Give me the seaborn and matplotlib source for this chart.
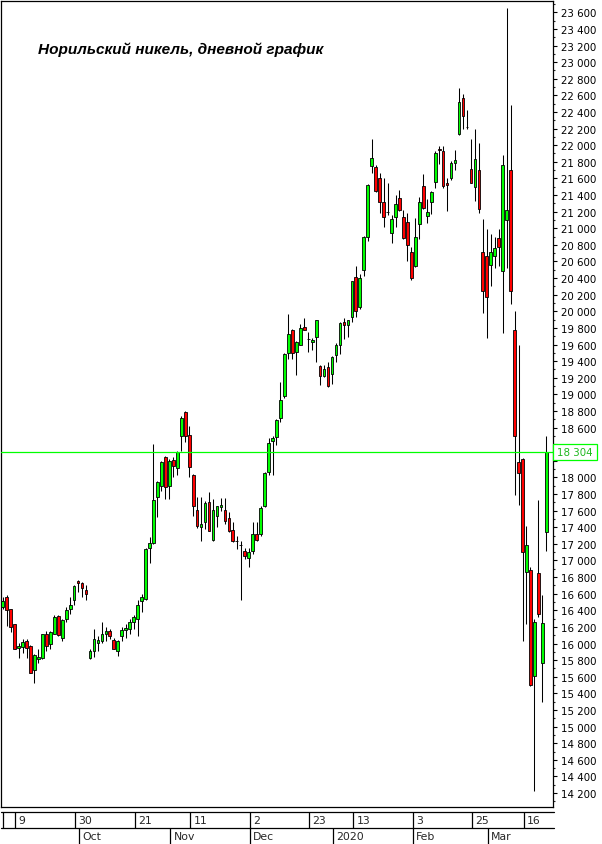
import matplotlib
matplotlib.use('Agg')
import matplotlib.pyplot as plt
import matplotlib.transforms as mtransforms
from matplotlib.patches import Rectangle
from matplotlib.ticker import MultipleLocator, FuncFormatter
import seaborn as sns

# дневные свечи, руб.
opens = [16440, 16560, 16410, 16230, 15950, 15960, 16030, 15970, 15680, 15810,
         15820, 16110, 15990, 16120, 16330, 16070, 16300, 16410, 16530, 16750,
         16730, 16650, 15830, 15910, 16010, 16030, 16110, 16150, 16040, 15910,
         16090, 16160, 16170, 16260, 16290, 16510, 16540, 17150, 17210, 17760,
         17900, 18240, 17900, 18210, 18110, 18500, 18790, 18510, 18030, 17610,
         17400, 17460, 17700, 17250, 17540, 17640, 17610, 17510, 17370, 17230,
         17190, 17110, 17030, 17120, 17320, 17320, 17650, 18070, 18440, 18490,
         18720, 18980, 19500, 19770, 19510, 19600, 19810, 19670, 19630, 19690,
         19340, 19220, 19330, 19240, 19470, 19590, 19870, 19830, 19930, 20410,
         20050, 20500, 20890, 21750, 21740, 21600, 21310, 21200, 20940, 21130,
         21360, 21130, 21080, 20720, 20540, 21050, 21510, 21150, 21310, 21560,
         21960, 21930, 21550, 21600, 21790, 22130, 22570, 22220, 21710, 21500,
         21700, 20710, 20660, 20560, 20660, 20880, 20480, 21100, 21700, 19770,
         18190, 18220, 16860, 16890, 15610, 16850, 15760, 17340]
highs = [16560, 16580, 16420, 16240, 16010, 16050, 16050, 15980, 15870, 15930,
         16120, 16150, 16150, 16340, 16340, 16290, 16440, 16560, 16700, 16760,
         16740, 16710, 15930, 16170, 16090, 16260, 16200, 16180, 16070, 16040,
         16200, 16240, 16300, 16340, 16520, 16600, 17150, 17280, 18400, 17960,
         18200, 18260, 18220, 18240, 18320, 18740, 18800, 18620, 18040, 17760,
         17760, 17720, 17830, 17740, 17660, 17750, 17750, 17580, 17460, 17300,
         17240, 17150, 17150, 17460, 17460, 17650, 18060, 18470, 18500, 18700,
         19150, 19500, 19970, 19790, 19640, 19850, 19920, 19750, 19680, 19900,
         19350, 19350, 19390, 19460, 19620, 19870, 19920, 19900, 20370, 20540,
         20450, 20910, 21530, 22080, 21760, 21670, 21610, 21540, 21160, 21400,
         21460, 21220, 21180, 20770, 21120, 21380, 21650, 21350, 21450, 21930,
         21990, 21990, 21610, 21810, 21940, 22690, 22620, 22420, 22070, 22190,
         22030, 21110, 20990, 20930, 20900, 20990, 21880, 23650, 22480, 20000,
         19590, 18230, 17420, 16920, 16300, 17730, 16590, 18500]
lows = [16420, 16210, 16140, 15930, 15830, 15890, 15830, 15640, 15520, 15770,
        15810, 15910, 15930, 16110, 16090, 16030, 16260, 16360, 16470, 16620,
        16560, 16520, 15810, 15840, 15910, 16010, 16030, 16050, 15930, 15850,
        16030, 16070, 16110, 16170, 16090, 16380, 16530, 16970, 17200, 17520,
        17840, 17740, 17740, 18000, 18030, 18320, 18430, 18010, 17540, 17390,
        17240, 17380, 17350, 17240, 17400, 17600, 17440, 17340, 17220, 17140,
        16530, 17020, 16920, 17080, 17240, 17300, 17640, 18030, 18030, 18390,
        18670, 18960, 19430, 19430, 19230, 19590, 19770, 19510, 19540, 19390,
        19110, 19210, 19090, 19120, 19390, 19490, 19670, 19690, 19870, 19930,
        20030, 20430, 20850, 21670, 21440, 21180, 21020, 21160, 20820, 21020,
        21210, 20870, 20600, 20380, 20530, 20870, 21230, 21060, 21170, 21480,
        21770, 21480, 21210, 21580, 21700, 22120, 22190, 22190, 21540, 21330,
        21180, 19980, 19680, 20310, 20520, 20540, 19740, 20520, 20090, 17790,
        17670, 16030, 16240, 15490, 14220, 16320, 15300, 17120]
closes = [16510, 16400, 16200, 15940, 15970, 16020, 15950, 15650, 15860, 15840,
          16110, 15970, 16140, 16320, 16100, 16280, 16400, 16470, 16690, 16730,
          16670, 16600, 15910, 16050, 16040, 16110, 16150, 16090, 15940, 16030,
          16160, 16190, 16260, 16320, 16470, 16560, 17140, 17210, 17730, 17950,
          18190, 17890, 18200, 18140, 18310, 18720, 18500, 18120, 17650, 17420,
          17440, 17690, 17360, 17610, 17650, 17670, 17480, 17350, 17240, 17230,
          17190, 17050, 17100, 17320, 17250, 17630, 18050, 18420, 18480, 18690,
          18930, 19490, 19730, 19500, 19630, 19800, 19780, 19670, 19650, 19890,
          19220, 19310, 19100, 19450, 19590, 19860, 19840, 19890, 20360, 20000,
          20400, 20900, 21520, 21850, 21450, 21310, 21140, 21200, 21110, 21290,
          21220, 20880, 20800, 20400, 20900, 21310, 21240, 21200, 21440, 21910,
          21940, 21510, 21520, 21790, 21820, 22520, 22350, 22220, 21550, 21830,
          21230, 20250, 20170, 20720, 20760, 20780, 21760, 21220, 20240, 18500,
          18050, 17100, 17190, 15500, 16260, 16360, 16250, 18304]

last_price = 18304

# подписи оси времени (номер торгового дня -> подпись)
day_ticks = [3, 18, 33, 47, 62, 77, 88, 103, 118, 131]
day_labels = ['9', '30', '21', '11', '2', '23', '13', '3', '25', '16']
month_ticks = [19, 42, 62, 83, 103, 122]
month_labels = ['Oct', 'Nov', 'Dec', '2020', 'Feb', 'Mar']

sns.set_theme(style='white')
plt.rcParams['font.family'] = ['Liberation Sans Narrow', 'DejaVu Sans']

W, H = 602, 845
fig = plt.figure(figsize=(W / 100, H / 100), dpi=100)
ax_l, ax_r = 0.5 / W, 552.5 / W
ax_b, ax_t = (H - 807.5) / H, (H - 1.5) / H
ax = fig.add_axes([ax_l, ax_b, ax_r - ax_l, ax_t - ax_b])

n = len(opens)
idx = list(range(n))
up = [c >= o for o, c in zip(opens, closes)]
body_bottom = [min(o, c) for o, c in zip(opens, closes)]
body_height = [abs(c - o) for o, c in zip(opens, closes)]
colors = ['#00ff00' if u else '#ff0000' for u in up]

ax.vlines(idx, lows, highs, color='black', linewidth=0.75, zorder=2)
ax.bar(idx, body_height, bottom=body_bottom, width=0.68, color=colors,
       edgecolor='black', linewidth=0.6, zorder=3)

ax.axhline(last_price, color='#00ff00', linewidth=0.9, zorder=4)

ax.set_xlim(-0.554, 138.56)
ax.set_ylim(14038, 23742)
ax.set_xticks([])
ax.yaxis.tick_right()
ax.yaxis.set_major_locator(MultipleLocator(200))
ax.yaxis.set_minor_locator(MultipleLocator(100))


def price_fmt(v, p):
    # подпись, закрытая плашкой последней цены, не рисуется
    if abs(v - last_price) < 150:
        return ''
    return f"{int(v):,}".replace(',', ' ')


ax.yaxis.set_major_formatter(FuncFormatter(price_fmt))
ax.tick_params(axis='y', which='major', direction='out', length=3, width=0.8,
               labelsize=7.4, pad=3, colors='black', right=True, left=False)
ax.tick_params(axis='y', which='minor', direction='out', length=1.5, width=0.8,
               right=True, left=False)
for s in ax.spines.values():
    s.set_color('black')
    s.set_linewidth(0.9)
ax.set_facecolor('white')
ax.grid(False)

# метка последней цены
tr = mtransforms.blended_transform_factory(fig.transFigure, ax.transData)
ax.add_artist(Rectangle((553 / W, last_price - 96), 44 / W, 192, transform=tr,
                        fill=True, facecolor='white', edgecolor='#00ff00',
                        linewidth=0.9, clip_on=False, zorder=5))
ax.text(575 / W, last_price, f"{last_price:,}".replace(',', ' '), transform=tr,
        ha='center', va='center', fontsize=7.4, color='#1fb81f', zorder=6)

fig.text(38 / W, 1 - 50 / H, 'Норильский никель, дневной график',
         fontsize=11.1, fontweight='bold', fontstyle='italic', color='black',
         family=['Liberation Sans', 'DejaVu Sans'], ha='left', va='center')

# шкала дат в две строки
axd = fig.add_axes([ax_l, 0, 554 / W - ax_l, (H - 812.7) / H])
axd.set_xlim(-0.554, -0.554 + (554 - 0.5) / 3.9715)
axd.set_ylim(0, 2)
axd.axis('off')
axd.axhline(2, color='black', linewidth=0.9, clip_on=False)
axd.axhline(1, color='black', linewidth=0.9, clip_on=False)
axd.vlines([0.2] + [t + 0.2 for t in day_ticks], 1, 2, color='black', linewidth=0.9)
axd.vlines([t + 0.2 for t in month_ticks], 0, 1, color='black', linewidth=0.9)
for t, lab in zip(day_ticks, day_labels):
    axd.annotate(lab, (t + 0.2, 1.5), xytext=(2.4, 0), textcoords='offset points',
                 ha='left', va='center', fontsize=7.8)
for t, lab in zip(month_ticks, month_labels):
    axd.annotate(lab, (t + 0.2, 0.5), xytext=(2.4, 0), textcoords='offset points',
                 ha='left', va='center', fontsize=7.8)

fig.savefig('out.png', dpi=100, facecolor='white')
